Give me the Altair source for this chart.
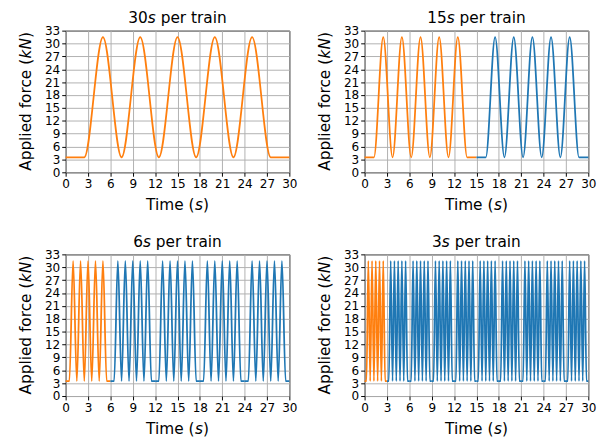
import altair as alt
import pandas as pd

# ---- values ----
panel_train_labels = ["30", "15", "6", "3"]   # shown as "<n>s per train"
train_lengths = [30, 15, 6, 3]                # seconds per train, one per panel
total_time = 30                               # s
cycles_per_train = 5
force_min = 3.5                               # kN (trough / rest level)
force_max = 31.5                              # kN (peak)
tick_values_x = [0, 3, 6, 9, 12, 15, 18, 21, 24, 27, 30]
tick_values_y = [0, 3, 6, 9, 12, 15, 18, 21, 24, 27, 30, 33]
series_names = ["first train", "later trains"]
series_colors = ["#ff7f0e", "#1f77b4"]

FONT = "DejaVu Sans"
W, H = 229, 145
TITLE_SIZE = 15.7
LABEL_SIZE = 12.3

# DejaVu Sans advance widths (em) used to lay out mixed upright/italic titles
ADV = {" ": .318, "(": .390, ")": .390, "A": .684, "N": .748, "T": .611,
       "a": .613, "c": .550, "d": .635, "e": .615, "f": .352, "i": .278,
       "k": .579, "l": .278, "m": .974, "n": .634, "o": .612, "p": .635,
       "r": .411, "s": .521, "t": .392}
for ch in "0123456789":
    ADV[ch] = .636


def text_width(s, size):
    return sum(ADV.get(c, .6) for c in s) * size


def rich_text(pieces, center, base, size, vertical=False):
    """pieces: list of (text, italic). Returns list of text layers."""
    total = sum(text_width(t, size) for t, _ in pieces)
    layers = []
    pos = center - total / 2 if not vertical else center + total / 2
    for txt, italic in pieces:
        w = text_width(txt, size)
        shown = txt.lstrip(" ")
        lead = text_width(txt[: len(txt) - len(shown)], size)
        start = pos - lead if vertical else pos + lead
        if vertical:
            x, y = base, start
        else:
            x, y = start, base
        layers.append(
            alt.Chart(pd.DataFrame({"label": [shown]}))
            .mark_text(align="left", baseline="alphabetic", font=FONT, fontSize=size,
                       fontStyle="italic" if italic else "normal", fontWeight="normal",
                       color="black", angle=270 if vertical else 0)
            .encode(text="label:N", x=alt.value(x), y=alt.value(y))
        )
        pos = pos - w if vertical else pos + w
    return layers


def panel_rows(train_len):
    rows = []
    n_trains = int(round(total_time / train_len))
    step = train_len / (2 * (cycles_per_train + 1))
    for k in range(n_trains):
        start = k * train_len
        series = series_names[0] if k == 0 else series_names[1]
        rows.append((start, force_min, series, k))
        for j in range(2 * cycles_per_train + 1):
            t = start + step + j * step
            rows.append((t, force_max if j % 2 else force_min, series, k))
        rows.append((start + train_len, force_min, series, k))
    return pd.DataFrame(rows, columns=["time", "force", "series", "train"])


def panel(n_label, train_len):
    df = panel_rows(train_len)
    lines = (
        alt.Chart(df)
        .mark_line(strokeWidth=1.8, interpolate="monotone")
        .encode(
            x=alt.X("time:Q",
                    scale=alt.Scale(domain=[0, total_time], nice=False, zero=False),
                    axis=alt.Axis(values=tick_values_x, title=None, format="d")),
            y=alt.Y("force:Q",
                    scale=alt.Scale(domain=[0, 33], nice=False),
                    axis=alt.Axis(values=tick_values_y, title=None, format="d")),
            color=alt.Color("series:N",
                            scale=alt.Scale(domain=series_names, range=series_colors),
                            legend=None),
            detail="train:N",
            order="time:Q",
        )
    )
    texts = []
    texts += rich_text([(n_label, False), ("s", True), (" per train", False)],
                       W / 2, -8, TITLE_SIZE)
    texts += rich_text([("Time (", False), ("s", True), (")", False)],
                       W / 2, H + 39, TITLE_SIZE)
    texts += rich_text([("Applied force (", False), ("kN", True), (")", False)],
                       H / 2, -35, TITLE_SIZE, vertical=True)
    return alt.layer(lines, *texts).properties(width=W, height=H)


charts = [panel(n, L) for n, L in zip(panel_train_labels, train_lengths)]

chart = (
    alt.vconcat(
        alt.hconcat(charts[0], charts[1], spacing=19),
        alt.hconcat(charts[2], charts[3], spacing=19),
        spacing=19,
    )
    .properties(padding={"left": 10, "top": -4, "right": 5, "bottom": 5})
    .configure(background="white")
    .configure_view(stroke="black", strokeWidth=1)
    .configure_axis(
        labelFont=FONT, labelFontSize=LABEL_SIZE, labelColor="black", labelPadding=2,
        labelOverlap=False, labelFlush=False,
        domain=False,
        tickColor="black", tickSize=4, tickWidth=1,
        grid=True, gridColor="#b0b0b0", gridWidth=1,
    )
)

chart.save("out.html", embed_options={"renderer": "svg", "actions": False})
